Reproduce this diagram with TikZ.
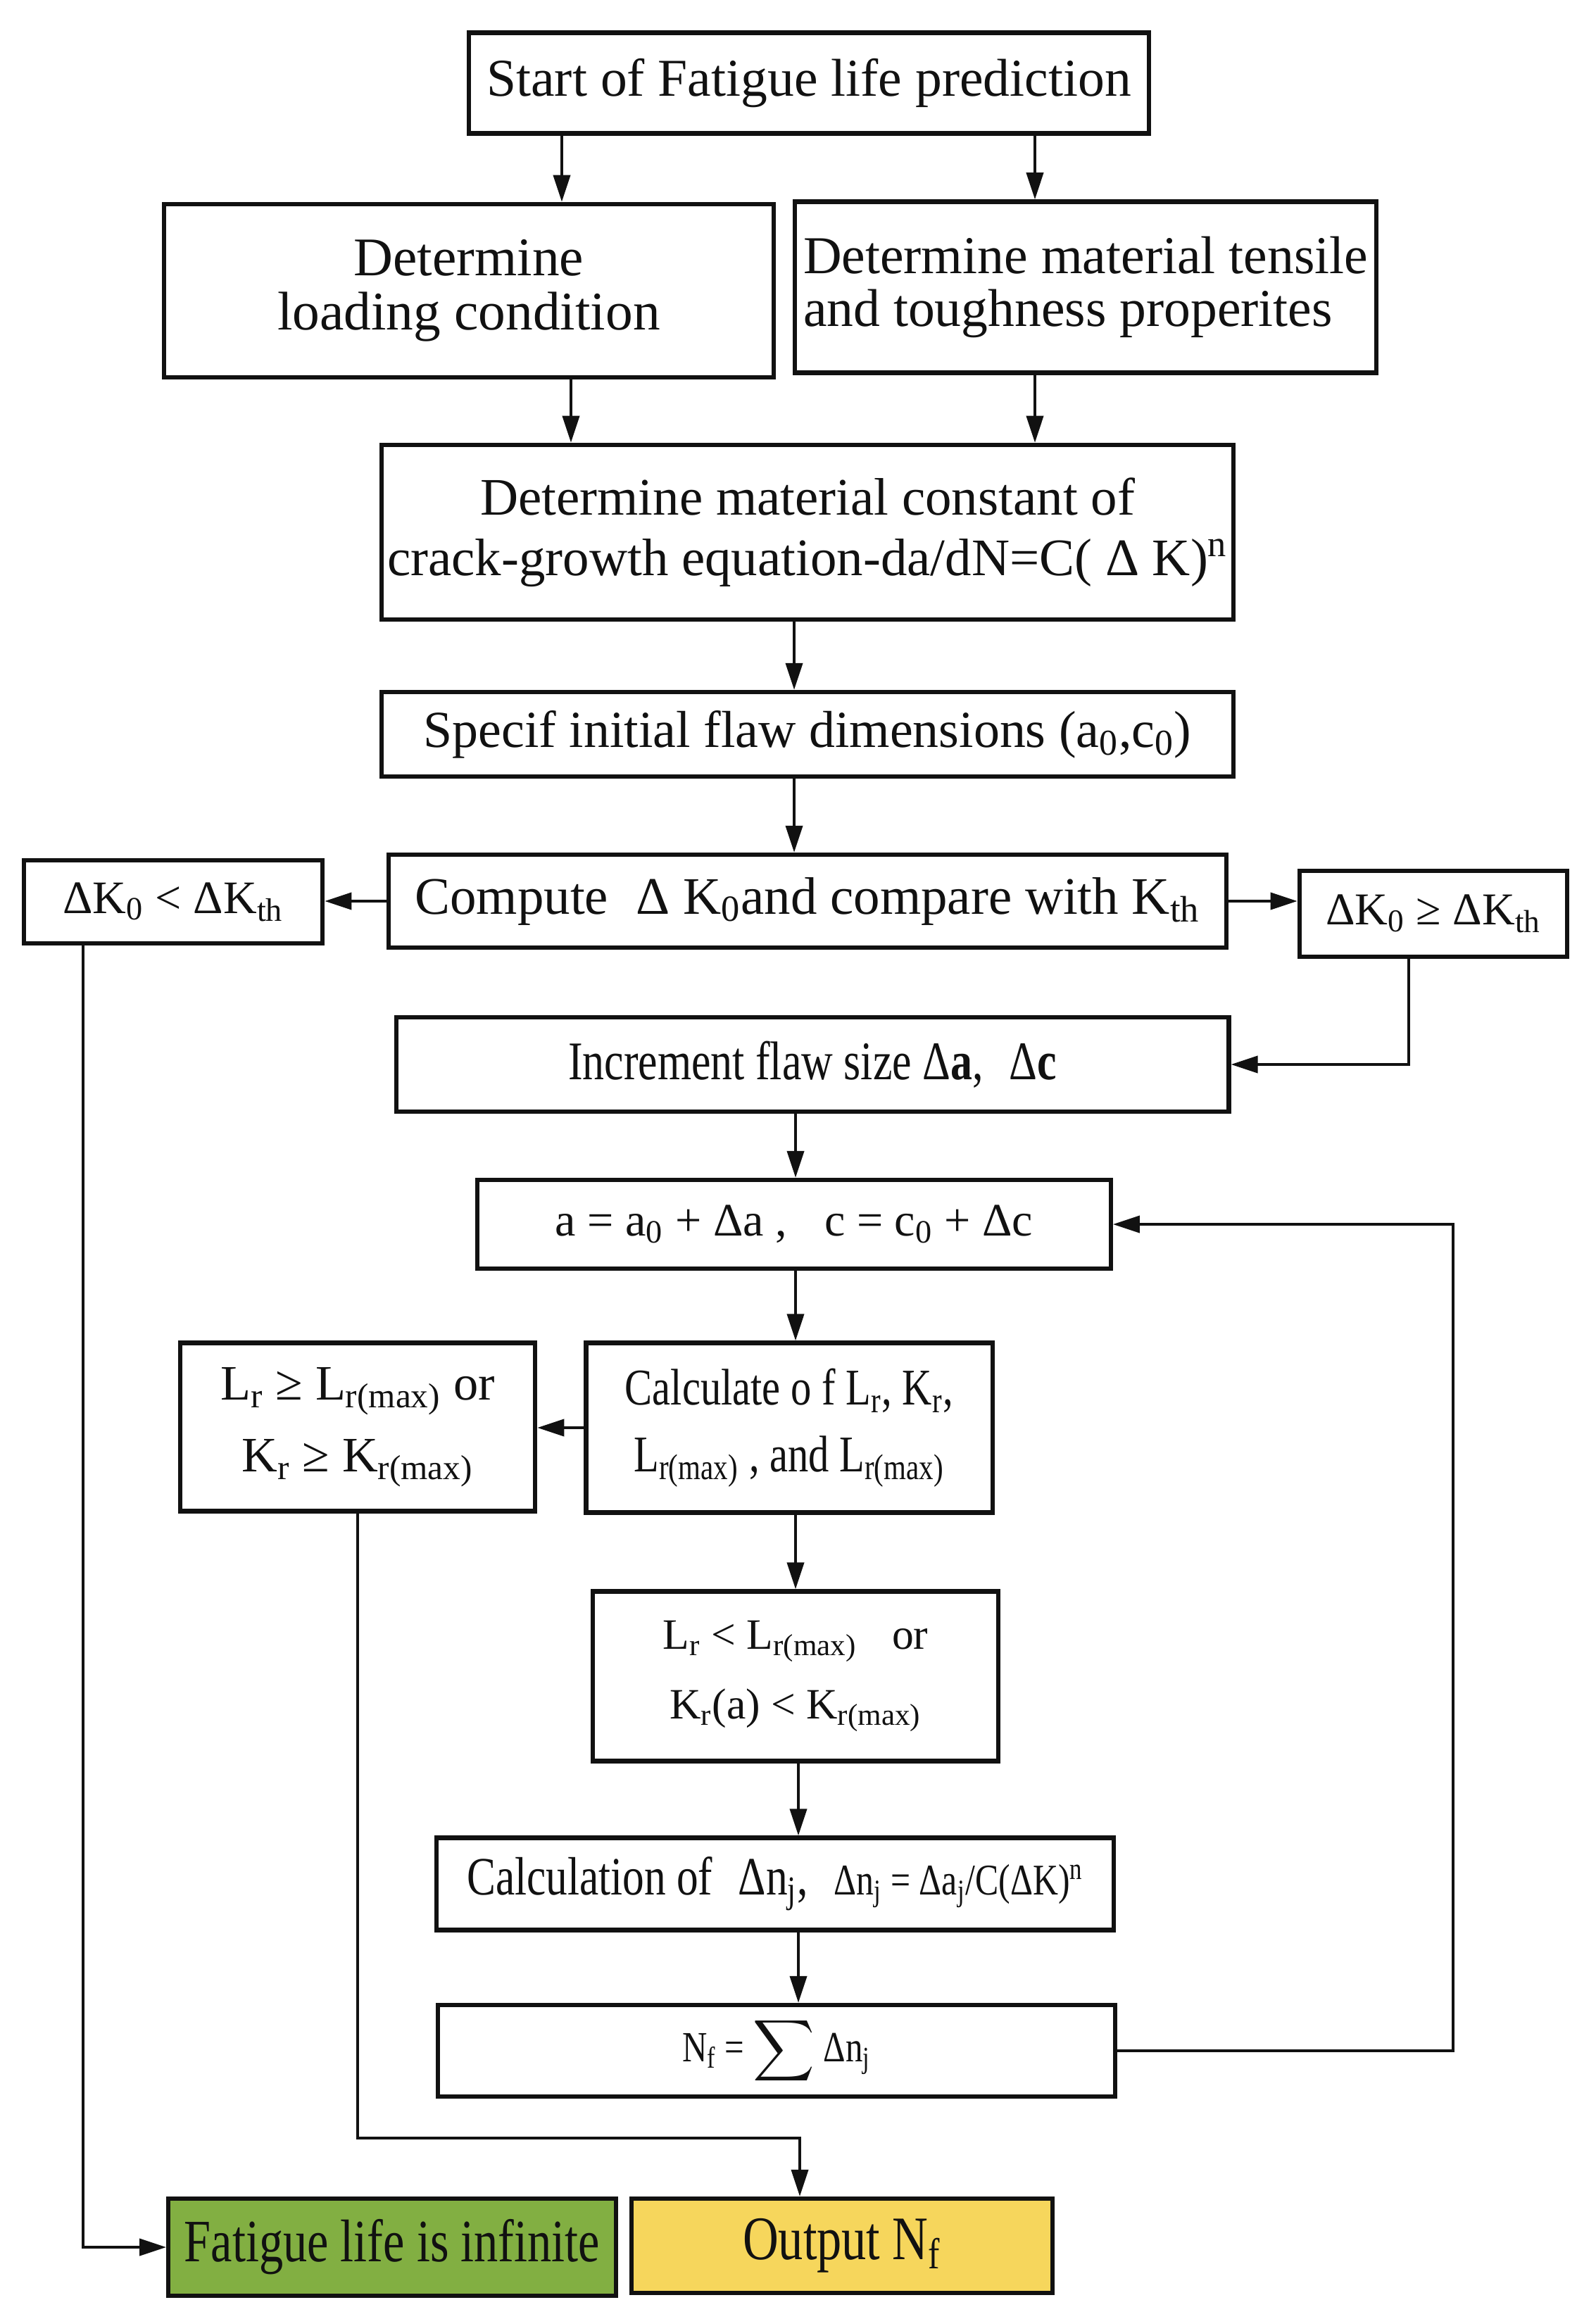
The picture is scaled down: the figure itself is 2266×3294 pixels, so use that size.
\documentclass[tikz,border=0pt]{standalone}
\usepackage{fontspec}
\usepackage{exscale}
\setmainfont{Liberation Serif}
\newfontfamily\estrecha[FakeStretch=0.8]{Liberation Serif}
\usetikzlibrary{arrows.meta, positioning, calc}
\definecolor{tinta}{HTML}{111111}
\definecolor{verde}{HTML}{82AF42}
\definecolor{amarillo}{HTML}{F6D65C}
\newcommand{\fsz}[2]{\fontsize{#1}{#2}\selectfont}
\tikzset{
  caja/.style={rectangle, draw=tinta, line width=1.8pt, fill=white, align=center,
               inner sep=0pt, text=tinta},
  arrow/.style={line width=1.1pt, color=tinta, -{Triangle[length=0.38cm, width=0.24cm]}}
}
\begin{document}
\begin{tikzpicture}[x=0.01cm, y=-0.01cm]
  \useasboundingbox (0,0) rectangle (2266,3294);
  % columna principal
  \node (inicio) [caja, minimum width=9.66cm, minimum height=1.43cm, font=\fsz{21.5}{22}]
        at (1149,118) {Start of Fatigue life prediction};
  \node (carga) [caja, minimum width=8.65cm, minimum height=2.46cm, font=\fsz{22}{22}]
        at (666,413) {Determine\\ loading condition};
  \node (tenac) [caja, minimum width=8.25cm, minimum height=2.43cm, font=\fsz{21.5}{21.5}, align=left]
        at (1542,408) {Determine material tensile\\ and toughness properites};
  \node (const) [caja, minimum width=12.09cm, minimum height=2.48cm, font=\fsz{21.3}{24.5}]
        at (1147,756) {Determine material constant of\\ crack-growth equation-da/dN=C( Δ K)\textsuperscript{n}};
  \node (defecto) [caja, minimum width=12.09cm, minimum height=1.20cm, font=\fsz{21}{22}]
        at (1147,1043) {Specif initial flaw dimensions (a\textsubscript{0},c\textsubscript{0})};
  \node (calculo) [caja, minimum width=11.89cm, minimum height=1.32cm, font=\fsz{21.3}{22}]
        at (1147,1280) {Compute\; Δ K\textsubscript{0}and compare with K\textsubscript{th}};
  \node (kmenor) [caja, minimum width=4.24cm, minimum height=1.18cm, font=\fsz{18.8}{20}]
        at (246,1281) {ΔK\textsubscript{0} < ΔK\textsubscript{th}};
  \node (kmayor) [caja, minimum width=3.80cm, minimum height=1.22cm, font=\fsz{18.4}{20}]
        at (2036,1298) {ΔK\textsubscript{0} ≥ ΔK\textsubscript{th}};
  \node (incr) [caja, minimum width=11.82cm, minimum height=1.34cm, font=\fsz{22}{22}\estrecha]
        at (1154,1512) {Increment flaw size Δ\textbf{a},\; Δ\textbf{c}};
  \node (act) [caja, minimum width=8.99cm, minimum height=1.26cm, font=\fsz{18.8}{20}]
        at (1128,1739) {a = a\textsubscript{0} + Δa ,\;\; c = c\textsubscript{0} + Δc};
  \node (lcalc) [caja, minimum width=5.77cm, minimum height=2.41cm, font=\fsz{20.8}{27}\estrecha]
        at (1121,2028) {Calculate o f L\textsubscript{r}, K\textsubscript{r},\\ L\textsubscript{r(max)} , and L\textsubscript{r(max)}};
  \node (lmayor) [caja, minimum width=5.04cm, minimum height=2.39cm, font=\fsz{20}{29}]
        at (508,2027) {L\textsubscript{r} ≥ L\textsubscript{r(max)} or\\ K\textsubscript{r} ≥ K\textsubscript{r(max)}};
  \node (lmenor) [caja, minimum width=5.76cm, minimum height=2.41cm, font=\fsz{17.5}{28}]
        at (1130,2381) {L\textsubscript{r} < L\textsubscript{r(max)}\;\; or\\ K\textsubscript{r}(a) < K\textsubscript{r(max)}};
  \node (dn) [caja, minimum width=9.61cm, minimum height=1.31cm, font=\fsz{21.8}{22}\estrecha]
        at (1101,2676) {Calculation of\; Δn\textsubscript{j},\; {\fsz{17.7}{18}Δn\textsubscript{j} = Δa\textsubscript{j}/C(ΔK)\textsuperscript{n}}};
  \node (nf) [caja, minimum width=9.61cm, minimum height=1.30cm, font=\fsz{17.4}{18}\estrecha]
        at (1103,2913) {N\textsubscript{f} = $\displaystyle\sum$ Δn\textsubscript{j}};
  \node (infinita) [caja, fill=verde, minimum width=6.35cm, minimum height=1.38cm, font=\fsz{24.3}{25}\estrecha]
        at (557,3192) {Fatigue life is infinite};
  \node (salida) [caja, fill=amarillo, minimum width=5.98cm, minimum height=1.34cm, font=\fsz{25}{25}\estrecha]
        at (1196,3190) {Output N\textsubscript{f}};
  % ejes de las flechas
  \coordinate (xa) at (798,0);
  \coordinate (xb) at (1470,0);
  \coordinate (xc) at (811,0);
  \coordinate (xd) at (1128,0);
  \coordinate (xe) at (1130,0);
  \coordinate (xf) at (1134,0);
  \coordinate (xg) at (2001,0);
  \coordinate (xk) at (118,0);
  \coordinate (xs) at (1136,0);
  \coordinate (lazo) at (2064,0);
  \coordinate (baja) at (0,3037);
  % conectores
  \draw [arrow] (inicio.south -| xa) -- (carga.north -| xa);
  \draw [arrow] (inicio.south -| xb) -- (tenac.north -| xb);
  \draw [arrow] (carga.south -| xc) -- (const.north -| xc);
  \draw [arrow] (tenac.south -| xb) -- (const.north -| xb);
  \draw [arrow] (const.south -| xd) -- (defecto.north -| xd);
  \draw [arrow] (defecto.south -| xd) -- (calculo.north -| xd);
  \draw [arrow] (calculo.west) -- (kmenor.east |- calculo.west);
  \draw [arrow] (calculo.east) -- (kmayor.west |- calculo.east);
  \draw [arrow] (kmayor.south -| xg) |- (incr.east);
  \draw [arrow] (incr.south -| xe) -- (act.north -| xe);
  \draw [arrow] (act.south -| xe) -- (lcalc.north -| xe);
  \draw [arrow] (lcalc.west) -- (lmayor.east |- lcalc.west);
  \draw [arrow] (lcalc.south -| xe) -- (lmenor.north -| xe);
  \draw [arrow] (lmenor.south -| xf) -- (dn.north -| xf);
  \draw [arrow] (dn.south -| xf) -- (nf.north -| xf);
  \draw [arrow] (nf.east) -| (lazo |- act.east) -- (act.east);
  \draw [arrow] (lmayor.south) |- (baja -| xs) -- (salida.north -| xs);
  \draw [arrow] (kmenor.south -| xk) |- (infinita.west);
\end{tikzpicture}
\end{document}
